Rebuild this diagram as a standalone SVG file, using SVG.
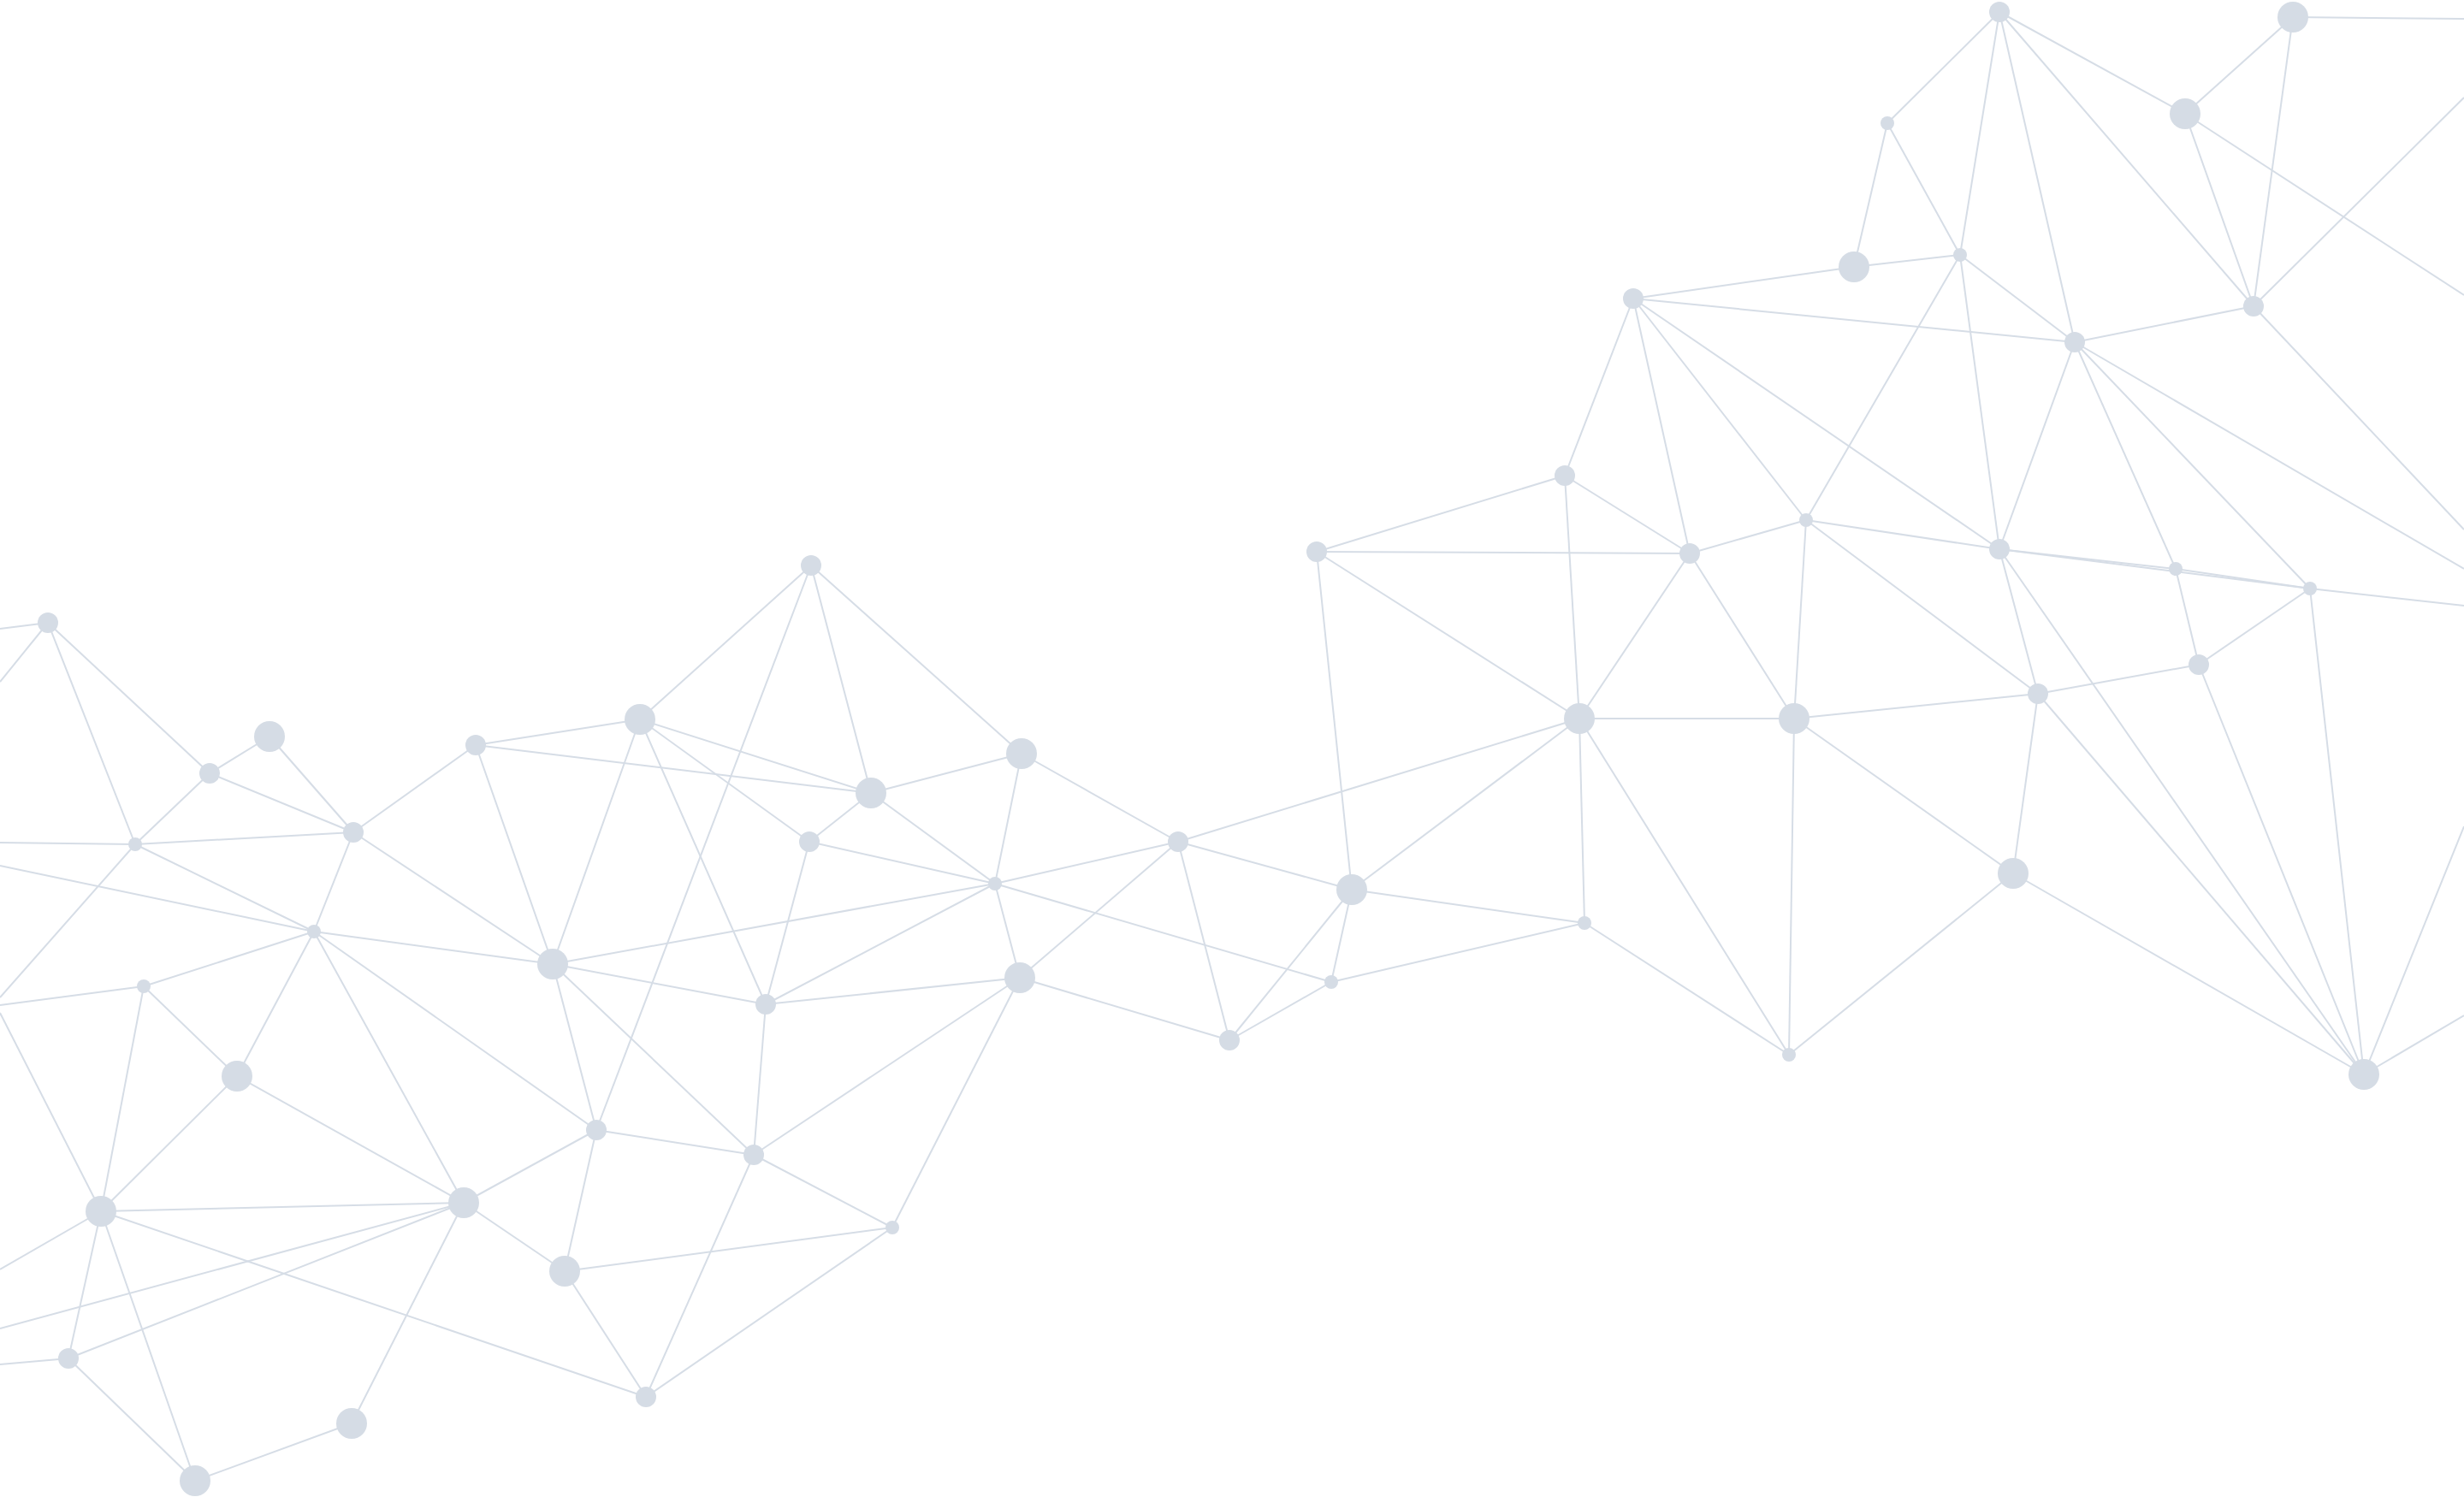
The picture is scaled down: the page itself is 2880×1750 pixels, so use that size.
<svg xmlns="http://www.w3.org/2000/svg" width="2880" height="1750" viewBox="0 0 2880 1750">
<style>
.e line{stroke:#d6dde6;stroke-width:2;fill:none}
circle{fill:#d5dce5}
.s{r:8px}
.m{r:12px}
.l{r:18px}
</style>
<rect width="2880" height="1750" fill="#ffffff"/>
<g id="connectors" class="e">
<line x1="0" y1="735" x2="56" y2="728"/>
<line x1="0" y1="797" x2="56" y2="728"/>
<line x1="0" y1="985" x2="158" y2="987"/>
<line x1="0" y1="1012" x2="367" y2="1089"/>
<line x1="0" y1="1166" x2="158" y2="987"/>
<line x1="0" y1="1175" x2="168" y2="1153"/>
<line x1="0" y1="1184" x2="118" y2="1416"/>
<line x1="0" y1="1484" x2="118" y2="1416"/>
<line x1="0" y1="1553" x2="542" y2="1406"/>
<line x1="0" y1="1595" x2="80" y2="1588"/>
<line x1="56" y1="728" x2="245" y2="904"/>
<line x1="56" y1="728" x2="158" y2="987"/>
<line x1="245" y1="904" x2="315" y2="861"/>
<line x1="245" y1="904" x2="158" y2="987"/>
<line x1="245" y1="904" x2="413" y2="973"/>
<line x1="315" y1="861" x2="413" y2="973"/>
<line x1="158" y1="987" x2="413" y2="973"/>
<line x1="158" y1="987" x2="367" y2="1089"/>
<line x1="413" y1="973" x2="556" y2="871"/>
<line x1="413" y1="973" x2="367" y2="1089"/>
<line x1="413" y1="973" x2="646" y2="1127"/>
<line x1="556" y1="871" x2="748" y2="841"/>
<line x1="556" y1="871" x2="1018" y2="927"/>
<line x1="556" y1="871" x2="646" y2="1127"/>
<line x1="367" y1="1089" x2="646" y2="1127"/>
<line x1="367" y1="1089" x2="168" y2="1153"/>
<line x1="367" y1="1089" x2="277" y2="1258"/>
<line x1="367" y1="1089" x2="542" y2="1406"/>
<line x1="367" y1="1089" x2="697" y2="1321"/>
<line x1="168" y1="1153" x2="277" y2="1258"/>
<line x1="168" y1="1153" x2="118" y2="1416"/>
<line x1="277" y1="1258" x2="118" y2="1416"/>
<line x1="277" y1="1258" x2="542" y2="1406"/>
<line x1="118" y1="1416" x2="542" y2="1406"/>
<line x1="118" y1="1416" x2="80" y2="1588"/>
<line x1="118" y1="1416" x2="228" y2="1731"/>
<line x1="118" y1="1416" x2="755" y2="1633"/>
<line x1="542" y1="1406" x2="80" y2="1588"/>
<line x1="542" y1="1406" x2="411" y2="1664"/>
<line x1="542" y1="1406" x2="697" y2="1321"/>
<line x1="542" y1="1406" x2="660" y2="1486"/>
<line x1="80" y1="1588" x2="228" y2="1731"/>
<line x1="228" y1="1731" x2="411" y2="1664"/>
<line x1="748" y1="841" x2="948" y2="661"/>
<line x1="748" y1="841" x2="1018" y2="927"/>
<line x1="748" y1="841" x2="946" y2="984"/>
<line x1="748" y1="841" x2="895" y2="1174"/>
<line x1="748" y1="841" x2="646" y2="1127"/>
<line x1="948" y1="661" x2="1018" y2="927"/>
<line x1="948" y1="661" x2="1194" y2="881"/>
<line x1="948" y1="661" x2="697" y2="1321"/>
<line x1="1018" y1="927" x2="1194" y2="881"/>
<line x1="1018" y1="927" x2="946" y2="984"/>
<line x1="1018" y1="927" x2="1163" y2="1033"/>
<line x1="1194" y1="881" x2="1163" y2="1033"/>
<line x1="1194" y1="881" x2="1377" y2="984"/>
<line x1="946" y1="984" x2="1163" y2="1033"/>
<line x1="946" y1="984" x2="895" y2="1174"/>
<line x1="1163" y1="1033" x2="1377" y2="984"/>
<line x1="1163" y1="1033" x2="646" y2="1127"/>
<line x1="1163" y1="1033" x2="895" y2="1174"/>
<line x1="1163" y1="1033" x2="1192" y2="1143"/>
<line x1="1163" y1="1033" x2="1556" y2="1148"/>
<line x1="646" y1="1127" x2="895" y2="1174"/>
<line x1="646" y1="1127" x2="697" y2="1321"/>
<line x1="646" y1="1127" x2="881" y2="1350"/>
<line x1="895" y1="1174" x2="1192" y2="1143"/>
<line x1="895" y1="1174" x2="881" y2="1350"/>
<line x1="697" y1="1321" x2="881" y2="1350"/>
<line x1="697" y1="1321" x2="660" y2="1486"/>
<line x1="881" y1="1350" x2="1192" y2="1143"/>
<line x1="881" y1="1350" x2="1043" y2="1435"/>
<line x1="881" y1="1350" x2="755" y2="1633"/>
<line x1="1043" y1="1435" x2="1192" y2="1143"/>
<line x1="1043" y1="1435" x2="660" y2="1486"/>
<line x1="1043" y1="1435" x2="755" y2="1633"/>
<line x1="660" y1="1486" x2="755" y2="1633"/>
<line x1="1192" y1="1143" x2="1377" y2="984"/>
<line x1="1192" y1="1143" x2="1437" y2="1216"/>
<line x1="1377" y1="984" x2="1437" y2="1216"/>
<line x1="1377" y1="984" x2="1580" y2="1040"/>
<line x1="1377" y1="984" x2="1846" y2="840"/>
<line x1="1580" y1="1040" x2="1539" y2="645"/>
<line x1="1580" y1="1040" x2="1846" y2="840"/>
<line x1="1580" y1="1040" x2="1852" y2="1079"/>
<line x1="1580" y1="1040" x2="1556" y2="1148"/>
<line x1="1580" y1="1040" x2="1437" y2="1216"/>
<line x1="1556" y1="1148" x2="1437" y2="1216"/>
<line x1="1556" y1="1148" x2="1852" y2="1079"/>
<line x1="1539" y1="645" x2="1829" y2="556"/>
<line x1="1539" y1="645" x2="1975" y2="647"/>
<line x1="1539" y1="645" x2="1846" y2="840"/>
<line x1="1829" y1="556" x2="1909" y2="349"/>
<line x1="1829" y1="556" x2="1975" y2="647"/>
<line x1="1829" y1="556" x2="1846" y2="840"/>
<line x1="1846" y1="840" x2="1975" y2="647"/>
<line x1="1846" y1="840" x2="2097" y2="840"/>
<line x1="1846" y1="840" x2="1852" y2="1079"/>
<line x1="1846" y1="840" x2="2091" y2="1233"/>
<line x1="1852" y1="1079" x2="2091" y2="1233"/>
<line x1="1909" y1="349" x2="2167" y2="312"/>
<line x1="1909" y1="349" x2="1975" y2="647"/>
<line x1="1909" y1="349" x2="2111" y2="608"/>
<line x1="1909" y1="349" x2="2337" y2="642"/>
<line x1="1909" y1="349" x2="2425" y2="400"/>
<line x1="2167" y1="312" x2="2206" y2="144"/>
<line x1="2167" y1="312" x2="2291" y2="298"/>
<line x1="2206" y1="144" x2="2337" y2="14"/>
<line x1="2206" y1="144" x2="2291" y2="298"/>
<line x1="2337" y1="14" x2="2291" y2="298"/>
<line x1="2337" y1="14" x2="2554" y2="133"/>
<line x1="2337" y1="14" x2="2425" y2="400"/>
<line x1="2337" y1="14" x2="2634" y2="358"/>
<line x1="2291" y1="298" x2="2425" y2="400"/>
<line x1="2291" y1="298" x2="2111" y2="608"/>
<line x1="2291" y1="298" x2="2337" y2="642"/>
<line x1="2554" y1="133" x2="2680" y2="20"/>
<line x1="2554" y1="133" x2="2634" y2="358"/>
<line x1="2554" y1="133" x2="2880" y2="345"/>
<line x1="2680" y1="20" x2="2880" y2="22"/>
<line x1="2680" y1="20" x2="2634" y2="358"/>
<line x1="2634" y1="358" x2="2880" y2="114"/>
<line x1="2634" y1="358" x2="2425" y2="400"/>
<line x1="2634" y1="358" x2="2880" y2="619"/>
<line x1="2425" y1="400" x2="2337" y2="642"/>
<line x1="2425" y1="400" x2="2543" y2="665"/>
<line x1="2425" y1="400" x2="2700" y2="688"/>
<line x1="2425" y1="400" x2="2880" y2="665"/>
<line x1="2111" y1="608" x2="1975" y2="647"/>
<line x1="2111" y1="608" x2="2337" y2="642"/>
<line x1="2111" y1="608" x2="2382" y2="811"/>
<line x1="2111" y1="608" x2="2097" y2="840"/>
<line x1="1975" y1="647" x2="2097" y2="840"/>
<line x1="2337" y1="642" x2="2543" y2="665"/>
<line x1="2543" y1="665" x2="2700" y2="688"/>
<line x1="2337" y1="642" x2="2700" y2="688"/>
<line x1="2337" y1="642" x2="2382" y2="811"/>
<line x1="2337" y1="642" x2="2763" y2="1256"/>
<line x1="2543" y1="665" x2="2570" y2="777"/>
<line x1="2700" y1="688" x2="2570" y2="777"/>
<line x1="2700" y1="688" x2="2880" y2="708"/>
<line x1="2700" y1="688" x2="2763" y2="1256"/>
<line x1="2570" y1="777" x2="2382" y2="811"/>
<line x1="2570" y1="777" x2="2763" y2="1256"/>
<line x1="2382" y1="811" x2="2097" y2="840"/>
<line x1="2382" y1="811" x2="2353" y2="1021"/>
<line x1="2382" y1="811" x2="2763" y2="1256"/>
<line x1="2097" y1="840" x2="2353" y2="1021"/>
<line x1="2097" y1="840" x2="2091" y2="1233"/>
<line x1="2353" y1="1021" x2="2091" y2="1233"/>
<line x1="2353" y1="1021" x2="2763" y2="1256"/>
<line x1="2763" y1="1256" x2="2880" y2="966"/>
<line x1="2763" y1="1256" x2="2880" y2="1187"/>
</g>
<g id="nodes">
<g id="n1"><circle class="m" cx="56" cy="728" r="12"/></g>
<g id="n2"><circle class="m" cx="245" cy="904" r="12"/></g>
<g id="n3"><circle class="l" cx="315" cy="861" r="18"/></g>
<g id="n4"><circle class="s" cx="158" cy="987" r="8"/></g>
<g id="n5"><circle class="m" cx="413" cy="973" r="12"/></g>
<g id="n6"><circle class="m" cx="556" cy="871" r="12"/></g>
<g id="n7"><circle class="l" cx="748" cy="841" r="18"/></g>
<g id="n8"><circle class="m" cx="948" cy="661" r="12"/></g>
<g id="n9"><circle class="l" cx="1018" cy="927" r="18"/></g>
<g id="n10"><circle class="l" cx="1194" cy="881" r="18"/></g>
<g id="n11"><circle class="m" cx="946" cy="984" r="12"/></g>
<g id="n12"><circle class="s" cx="1163" cy="1033" r="8"/></g>
<g id="n13"><circle class="m" cx="1377" cy="984" r="12"/></g>
<g id="n14"><circle class="l" cx="1580" cy="1040" r="18"/></g>
<g id="n15"><circle class="m" cx="1539" cy="645" r="12"/></g>
<g id="n16"><circle class="m" cx="1829" cy="556" r="12"/></g>
<g id="n17"><circle class="m" cx="1909" cy="349" r="12"/></g>
<g id="n18"><circle class="l" cx="2167" cy="312" r="18"/></g>
<g id="n19"><circle class="s" cx="2206" cy="144" r="8"/></g>
<g id="n20"><circle class="m" cx="2337" cy="14" r="12"/></g>
<g id="n21"><circle class="s" cx="2291" cy="298" r="8"/></g>
<g id="n22"><circle class="l" cx="2554" cy="133" r="18"/></g>
<g id="n23"><circle class="l" cx="2680" cy="20" r="18"/></g>
<g id="n24"><circle class="m" cx="2634" cy="358" r="12"/></g>
<g id="n25"><circle class="m" cx="2425" cy="400" r="12"/></g>
<g id="n26"><circle class="s" cx="2111" cy="608" r="8"/></g>
<g id="n27"><circle class="m" cx="1975" cy="647" r="12"/></g>
<g id="n28"><circle class="m" cx="2337" cy="642" r="12"/></g>
<g id="n29"><circle class="s" cx="2543" cy="665" r="8"/></g>
<g id="n30"><circle class="s" cx="2700" cy="688" r="8"/></g>
<g id="n31"><circle class="m" cx="2570" cy="777" r="12"/></g>
<g id="n32"><circle class="m" cx="2382" cy="811" r="12"/></g>
<g id="n33"><circle class="l" cx="2097" cy="840" r="18"/></g>
<g id="n34"><circle class="l" cx="1846" cy="840" r="18"/></g>
<g id="n35"><circle class="s" cx="1852" cy="1079" r="8"/></g>
<g id="n36"><circle class="l" cx="2353" cy="1021" r="18"/></g>
<g id="n37"><circle class="s" cx="2091" cy="1233" r="8"/></g>
<g id="n38"><circle class="l" cx="2763" cy="1256" r="18"/></g>
<g id="n39"><circle class="s" cx="1556" cy="1148" r="8"/></g>
<g id="n40"><circle class="m" cx="1437" cy="1216" r="12"/></g>
<g id="n41"><circle class="l" cx="1192" cy="1143" r="18"/></g>
<g id="n42"><circle class="m" cx="895" cy="1174" r="12"/></g>
<g id="n43"><circle class="l" cx="646" cy="1127" r="18"/></g>
<g id="n44"><circle class="s" cx="367" cy="1089" r="8"/></g>
<g id="n45"><circle class="s" cx="168" cy="1153" r="8"/></g>
<g id="n46"><circle class="l" cx="277" cy="1258" r="18"/></g>
<g id="n47"><circle class="l" cx="118" cy="1416" r="18"/></g>
<g id="n48"><circle class="l" cx="542" cy="1406" r="18"/></g>
<g id="n49"><circle class="m" cx="697" cy="1321" r="12"/></g>
<g id="n50"><circle class="m" cx="881" cy="1350" r="12"/></g>
<g id="n51"><circle class="s" cx="1043" cy="1435" r="8"/></g>
<g id="n52"><circle class="l" cx="660" cy="1486" r="18"/></g>
<g id="n53"><circle class="m" cx="755" cy="1633" r="12"/></g>
<g id="n54"><circle class="m" cx="80" cy="1588" r="12"/></g>
<g id="n55"><circle class="l" cx="228" cy="1731" r="18"/></g>
<g id="n56"><circle class="l" cx="411" cy="1664" r="18"/></g>
</g>
</svg>
